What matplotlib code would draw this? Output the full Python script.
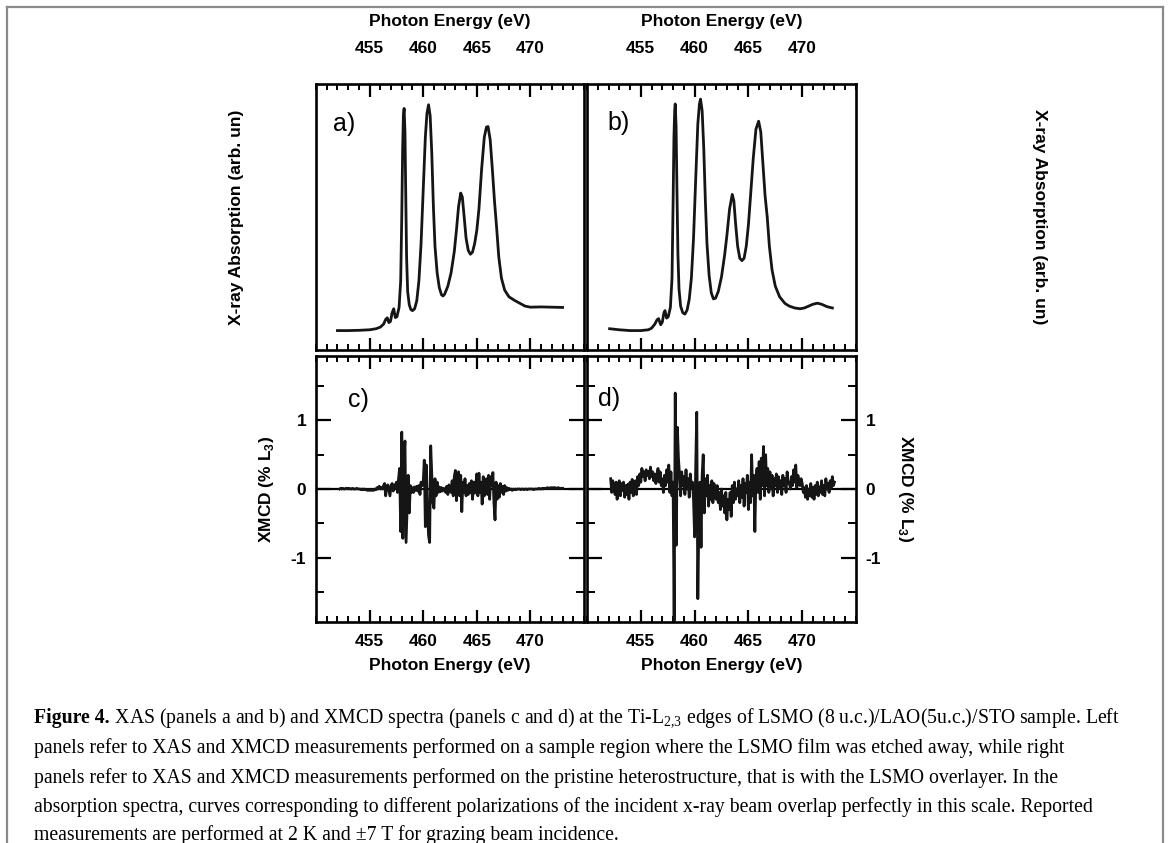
import numpy as np
import matplotlib
matplotlib.use("Agg")
import matplotlib.pyplot as plt
from matplotlib.lines import Line2D
from matplotlib.ticker import MultipleLocator

plt.rcParams['font.family'] = ['Liberation Sans', 'DejaVu Sans']
plt.rcParams['font.weight'] = 'bold'
plt.rcParams['axes.labelweight'] = 'bold'
plt.rcParams['axes.unicode_minus'] = False
plt.rcParams['mathtext.fontset'] = 'custom'
plt.rcParams['mathtext.rm'] = 'Liberation Serif:weight=normal'
plt.rcParams['mathtext.bf'] = 'Liberation Sans:weight=bold'

# ---------------- data ----------------
# XAS panel a (energy eV, absorption arb. un.)
xas_a_E = [452.0, 453.0, 454.0, 455.0, 455.6, 456.0, 456.3, 456.5, 456.65, 456.8,
           456.95, 457.1, 457.25, 457.4, 457.55, 457.75, 457.9, 458.0, 458.08, 458.15,
           458.22, 458.3, 458.38, 458.45, 458.55, 458.7, 458.85, 459.0, 459.2, 459.4,
           459.6, 459.8, 460.0, 460.2, 460.35, 460.5, 460.65, 460.8, 460.95, 461.1,
           461.3, 461.5, 461.7, 461.85, 462.0, 462.3, 462.6, 462.9, 463.1, 463.3,
           463.5, 463.65, 463.8, 464.0, 464.2, 464.4, 464.6, 464.8, 465.0, 465.2,
           465.45, 465.7, 465.9, 466.05, 466.25, 466.45, 466.65, 466.85, 467.05, 467.3,
           467.6, 468.0, 468.5, 469.0, 469.5, 470.0, 471.0, 472.0, 473.0]
xas_a_I = [0.073, 0.073, 0.074, 0.076, 0.080, 0.086, 0.097, 0.115, 0.121, 0.103,
           0.108, 0.140, 0.155, 0.122, 0.125, 0.160, 0.260, 0.500, 0.750, 0.880,
           0.908, 0.820, 0.560, 0.350, 0.220, 0.170, 0.152, 0.148, 0.155, 0.185,
           0.260, 0.400, 0.600, 0.800, 0.890, 0.922, 0.880, 0.740, 0.540, 0.390,
           0.290, 0.235, 0.208, 0.203, 0.210, 0.240, 0.290, 0.370, 0.450, 0.540,
           0.590, 0.575, 0.510, 0.420, 0.375, 0.360, 0.368, 0.400, 0.450, 0.530,
           0.680, 0.800, 0.838, 0.840, 0.790, 0.680, 0.560, 0.460, 0.350, 0.270,
           0.225, 0.200, 0.187, 0.176, 0.165, 0.161, 0.162, 0.161, 0.160]

# XAS panel b
xas_b_E = [452.1, 453.0, 454.0, 455.0, 455.7, 456.0, 456.3, 456.5, 456.65, 456.85,
           457.0, 457.15, 457.25, 457.4, 457.55, 457.75, 457.9, 458.0, 458.08, 458.15,
           458.2, 458.28, 458.36, 458.45, 458.55, 458.7, 458.9, 459.1, 459.3, 459.5,
           459.7, 459.9, 460.1, 460.3, 460.45, 460.55, 460.7, 460.85, 461.0, 461.15,
           461.35, 461.55, 461.75, 461.95, 462.2, 462.5, 462.8, 463.0, 463.25, 463.5,
           463.65, 463.8, 464.0, 464.2, 464.4, 464.6, 464.8, 465.0, 465.2, 465.45,
           465.7, 465.95, 466.15, 466.35, 466.55, 466.75, 466.95, 467.2, 467.5, 467.9,
           468.4, 468.8, 469.3, 469.8, 470.2, 470.6, 471.0, 471.4, 471.8, 472.3,
           472.8]
xas_b_I = [0.080, 0.076, 0.073, 0.073, 0.076, 0.082, 0.097, 0.113, 0.118, 0.095,
           0.105, 0.140, 0.148, 0.120, 0.125, 0.160, 0.270, 0.550, 0.800, 0.900,
           0.925, 0.840, 0.600, 0.360, 0.230, 0.165, 0.140, 0.135, 0.150, 0.190,
           0.270, 0.420, 0.640, 0.850, 0.925, 0.943, 0.900, 0.760, 0.560, 0.400,
           0.280, 0.215, 0.192, 0.195, 0.220, 0.275, 0.360, 0.430, 0.530, 0.585,
           0.560, 0.480, 0.390, 0.345, 0.336, 0.345, 0.390, 0.470, 0.580, 0.720,
           0.830, 0.860, 0.820, 0.700, 0.580, 0.500, 0.390, 0.300, 0.240, 0.200,
           0.175, 0.165, 0.158, 0.155, 0.158, 0.165, 0.172, 0.176, 0.172, 0.163,
           0.158]

# XMCD panel c (% L3), sampled every 0.1 eV starting at 452.2 eV
xmcd_c_start = 452.2
xmcd_c = [
    0.00, 0.01, 0.00, 0.01, 0.00, 0.00, 0.01, 0.01,                      # 452.2
    0.00, 0.01, 0.00, 0.00, 0.01, 0.00, 0.00, 0.00, 0.01, 0.00,          # 453
    0.00, 0.00, -0.01, 0.00, -0.01, 0.00, -0.01, -0.01, -0.02, -0.01,    # 454
    -0.02, -0.01, -0.02, -0.01, -0.02, 0.00, -0.01, 0.02, 0.00, 0.04,    # 455
    0.00, 0.02, 0.00, 0.05, 0.08, -0.10, 0.04, 0.06, -0.02, -0.10,       # 456
    0.05, 0.08, -0.03, 0.06, 0.02, 0.10, -0.05, 0.15, 0.30, -0.62,       # 457
    0.83, -0.72, 0.45, 0.70, -0.78, -0.30, 0.20, -0.35, 0.05, -0.05,     # 458
    0.02, -0.05, 0.03, -0.02, 0.04, -0.03, 0.05, -0.08, 0.10, 0.05,      # 459
    0.10, 0.42, -0.55, 0.35, -0.30, -0.68, -0.78, 0.63, 0.20, -0.20,     # 460
    -0.28, 0.15, -0.10, 0.10, -0.05, 0.03, -0.04, 0.02, -0.03, 0.01,     # 461
    0.00, -0.05, 0.04, -0.08, 0.06, 0.00, -0.05, 0.12, -0.10, 0.18,      # 462
    0.27, -0.17, 0.15, 0.25, -0.10, 0.20, -0.33, 0.10, -0.05, 0.15,      # 463
    -0.10, 0.05, -0.08, 0.08, -0.05, 0.12, -0.15, 0.10, -0.06, 0.05,     # 464
    0.22, -0.10, 0.23, -0.05, 0.10, -0.22, 0.18, -0.10, 0.05, 0.15,      # 465
    -0.08, 0.20, -0.15, 0.18, 0.05, 0.24, -0.20, -0.45, 0.10, -0.15,     # 466
    0.05, -0.12, 0.08, -0.05, 0.04, -0.08, 0.05, -0.03, 0.02, -0.02,     # 467
    0.01, -0.01, 0.00, -0.02, 0.00, -0.01, 0.00, -0.01, 0.00, 0.00,      # 468
    0.00, -0.01, 0.00, 0.00, -0.01, 0.00, 0.00, -0.01, 0.00, 0.00,       # 469
    0.00, 0.00, 0.00, -0.01, 0.00, 0.00, 0.00, 0.00, 0.01, 0.00,         # 470
    0.00, 0.01, 0.00, 0.01, 0.01, 0.01, 0.02, 0.01, 0.01, 0.02,          # 471
    0.01, 0.02, 0.01, 0.02, 0.01, 0.01, 0.02, 0.01, 0.01, 0.01,          # 472
    0.01,                                                                # 473
]

# XMCD panel d (% L3), sampled every 0.1 eV starting at 452.2 eV
xmcd_d_start = 452.2
xmcd_d = [
    0.15, -0.05, 0.12, 0.02, -0.08, 0.10, -0.15, 0.05,                   # 452.2
    0.12, -0.10, 0.08, -0.02, 0.10, -0.12, 0.05, -0.08, 0.07, -0.15,     # 453
    0.10, -0.05, 0.14, -0.10, 0.02, 0.12, -0.08, 0.18, 0.05, 0.22,       # 454
    0.10, 0.30, 0.18, 0.25, 0.12, 0.28, 0.20, 0.26, 0.15, 0.32,          # 455
    0.18, 0.25, 0.12, 0.22, 0.08, 0.20, 0.30, 0.10, 0.25, 0.05,          # 456
    0.15, -0.05, 0.20, 0.05, 0.28, 0.10, 0.35, -0.05, 0.25, -0.10,       # 457
    0.10, -1.92, 1.40, -0.82, 0.90, 0.45, 0.20, -0.10, 0.25, 0.05,       # 458
    0.18, -0.08, 0.28, 0.00, 0.15, -0.12, 0.22, 0.02, 0.10, -0.15,       # 459
    -0.70, 0.30, 1.12, -1.60, -0.40, 0.10, -0.85, 0.20, 0.50, -0.35,     # 460
    0.15, -0.10, 0.20, -0.25, 0.05, -0.15, 0.12, -0.20, 0.08, -0.05,     # 461
    -0.15, 0.05, -0.20, -0.05, -0.30, 0.00, -0.25, -0.10, -0.35, -0.05,  # 462
    -0.45, -0.15, -0.30, -0.05, -0.40, 0.05, -0.20, 0.10, -0.15, 0.00,   # 463
    -0.10, 0.12, -0.20, 0.05, -0.12, 0.15, -0.25, 0.08, -0.05, 0.20,     # 464
    -0.30, 0.10, -0.20, 0.50, -0.10, 0.20, -0.62, 0.15, 0.30, -0.05,     # 465
    0.40, -0.15, 0.45, 0.05, 0.62, -0.10, 0.50, 0.05, 0.30, -0.05,       # 466
    0.25, 0.00, 0.20, -0.10, 0.15, 0.05, 0.22, -0.05, 0.18, 0.02,        # 467
    0.12, -0.08, 0.20, 0.05, 0.15, -0.05, 0.25, 0.08, 0.10, 0.00,        # 468
    0.18, 0.05, 0.28, 0.10, 0.35, 0.02, 0.20, 0.12, 0.05, 0.15,          # 469
    0.08, -0.05, 0.02, -0.12, 0.05, -0.15, 0.00, -0.10, 0.08, -0.12,     # 470
    0.02, -0.15, 0.05, -0.08, 0.10, -0.10, 0.03, -0.05, 0.12, -0.08,     # 471
    0.05, -0.10, 0.15, 0.00, 0.08, -0.05, 0.12, 0.02, 0.18, 0.05,        # 472
    0.10,                                                                # 473
]

x_ticks = [455, 460, 465, 470]
xmcd_ticks = [-1, 0, 1]
xlabel = 'Photon Energy (eV)'
ylabel_xas = 'X-ray Absorption (arb. un)'
ylabel_xmcd = r'XMCD (% L$_{\mathbf{3}}$)'

caption_head = 'Figure 4.'
caption_lines = [
    r"XAS (panels a and b) and XMCD spectra (panels c and d) at the Ti-L$_{2{,}3}$ edges of LSMO (8 u.c.)/LAO(5u.c.)/STO sample. Left",
    "panels refer to XAS and XMCD measurements performed on a sample region where the LSMO film was etched away, while right",
    "panels refer to XAS and XMCD measurements performed on the pristine heterostructure, that is with the LSMO overlayer. In the",
    "absorption spectra, curves corresponding to different polarizations of the incident x-ray beam overlap perfectly in this scale. Reported",
    "measurements are performed at 2 K and \u00b17 T for grazing beam incidence.",
]

# ---------------- figure ----------------
W, H = 1170, 843
fig = plt.figure(figsize=(W / 100, H / 100), dpi=100)

def px_axes(x0, y0, x1, y1):
    return fig.add_axes([x0 / W, 1 - y1 / H, (x1 - x0) / W, (y1 - y0) / H])

def px_text(x, y, s, **kw):
    return fig.text(x / W, 1 - y / H, s, **kw)

ax_a = px_axes(316, 84, 584, 350)
ax_b = px_axes(587, 84, 856, 350)
ax_c = px_axes(316, 356, 584, 622)
ax_d = px_axes(587, 356, 856, 622)

lw_sp = 1.9
lab_fs = 12.5
tick_fs = 12.5
curve_c = '#151515'

for ax in (ax_a, ax_b, ax_c, ax_d):
    ax.set_xlim(450, 475)
    for s in ax.spines.values():
        s.set_linewidth(lw_sp)
    ax.set_xticks(x_ticks)
    ax.xaxis.set_minor_locator(MultipleLocator(1))
    ax.tick_params(axis='x', which='major', direction='in', length=9, width=1.6,
                   top=True, bottom=True, labelsize=tick_fs)
    ax.tick_params(axis='x', which='minor', direction='in', length=4.5, width=1.4,
                   top=True, bottom=True)

# top panels: XAS
for ax, E, I in ((ax_a, xas_a_E, xas_a_I), (ax_b, xas_b_E, xas_b_I)):
    ax.plot(E, I, color=curve_c, lw=2.0, solid_joinstyle='round')
    ax.set_ylim(0, 1)
    ax.set_yticks([])
    ax.tick_params(axis='x', which='both', labeltop=True, labelbottom=False, pad=20)
    ax.xaxis.set_label_position('top')
    ax.set_xlabel(xlabel, fontsize=lab_fs, labelpad=11)

ax_a.text(0.065, 0.85, 'a)', transform=ax_a.transAxes, fontsize=18,
          fontweight='normal', va='center')
ax_b.text(0.075, 0.855, 'b)', transform=ax_b.transAxes, fontsize=18,
          fontweight='normal', va='center')

# bottom panels: XMCD
for ax, data, start in ((ax_c, xmcd_c, xmcd_c_start), (ax_d, xmcd_d, xmcd_d_start)):
    E = start + 0.1 * np.arange(len(data))
    ax.axhline(0, color='black', lw=1.6, zorder=1)
    ax.plot(E, data, color=curve_c, lw=2.0, zorder=2)
    ax.set_ylim(-1.94, 1.94)
    ax.set_yticks(xmcd_ticks)
    ax.yaxis.set_minor_locator(MultipleLocator(0.5))
    ax.tick_params(axis='y', which='major', direction='in', length=11, width=1.6,
                   left=True, right=True, labelsize=tick_fs, pad=7)
    ax.tick_params(axis='y', which='minor', direction='in', length=6, width=1.4,
                   left=True, right=True)
    ax.tick_params(axis='x', which='both', labelbottom=True, labeltop=False, pad=9)
    ax.set_xlabel(xlabel, fontsize=lab_fs, labelpad=6)

ax_d.tick_params(axis='y', which='both', labelleft=False, labelright=True)

ax_c.text(0.12, 0.835, 'c)', transform=ax_c.transAxes, fontsize=18,
          fontweight='normal', va='center')
ax_d.text(0.04, 0.84, 'd)', transform=ax_d.transAxes, fontsize=18,
          fontweight='normal', va='center')

# y labels placed freely (as in the reference)
px_text(237, 217, ylabel_xas, rotation=90, fontsize=lab_fs, ha='center', va='center')
px_text(1040, 217, ylabel_xas, rotation=270, fontsize=lab_fs, ha='center', va='center')
px_text(267, 489, ylabel_xmcd, rotation=90, fontsize=lab_fs, ha='center', va='center')
px_text(905, 489, ylabel_xmcd, rotation=270, fontsize=lab_fs, ha='center', va='center')

# ---------------- frame ----------------
frame_c = '#8a8a8a'
for xs, ys in (([7, 7], [H, 7]), ([7, 1163], [7, 7]), ([1163, 1163], [7, H])):
    fig.add_artist(Line2D([x / W for x in xs], [1 - y / H for y in ys],
                          transform=fig.transFigure, color=frame_c, lw=1.6))

# ---------------- caption ----------------
cap_font = ['Liberation Serif', 'DejaVu Serif']
renderer = fig.canvas.get_renderer()
x0 = 34
base_fs = 14.0
line_y = [718, 748, 778, 807, 835]

head = px_text(x0, line_y[0], caption_head, family=cap_font, fontweight='bold',
               fontsize=base_fs, va='center', ha='left')
rest = px_text(0, line_y[0], ' ' + caption_lines[0], family=cap_font,
               fontweight='normal', fontsize=base_fs, va='center', ha='left')
wh = head.get_window_extent(renderer).width
wr = rest.get_window_extent(renderer).width
fs = base_fs * (1122 - x0) / (wh + wr)
head.set_fontsize(fs)
rest.set_fontsize(fs)
wh = head.get_window_extent(renderer).width
rest.set_x((x0 + wh) / W)
for txt, y in zip(caption_lines[1:], line_y[1:]):
    px_text(x0, y, txt, family=cap_font, fontweight='normal', fontsize=fs,
            va='center', ha='left')

fig.savefig('out.png', dpi=100)
